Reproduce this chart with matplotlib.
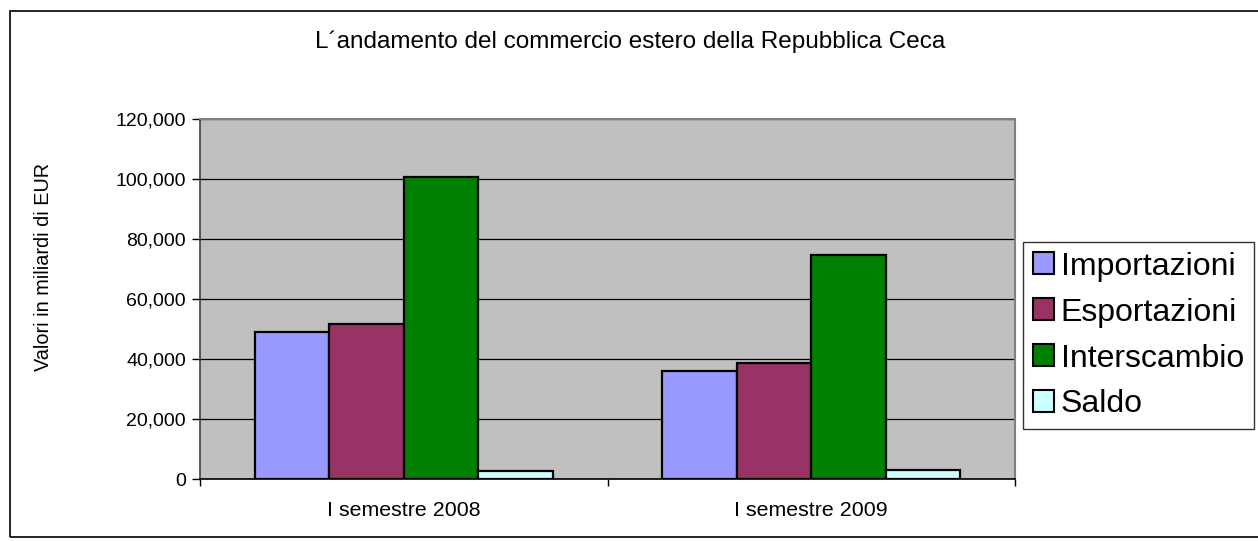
import matplotlib.pyplot as plt
from matplotlib.patches import Rectangle
from matplotlib.ticker import FuncFormatter
import numpy as np

plt.rcParams['font.family'] = ['Liberation Sans', 'DejaVu Sans']

categories = ["I semestre 2008", "I semestre 2009"]
series_names = ["Importazioni", "Esportazioni", "Interscambio", "Saldo"]
importazioni = [49100, 35900]
esportazioni = [51700, 38800]
interscambio = [100800, 74700]
saldo = [2600, 2900]
colors = ["#9999FF", "#993366", "#008000", "#CCFFFF"]

W, H = 1258, 541
fig = plt.figure(figsize=(W / 100, H / 100), dpi=100)

# plot area placed in pixel terms
left, right, top, bottom = 200, 1015, 119, 479
ax = fig.add_axes([left / W, 1 - bottom / H, (right - left) / W, (bottom - top) / H])
ax.set_facecolor("#C0C0C0")

x = np.arange(len(categories))
width = 0.183
values = [importazioni, esportazioni, interscambio, saldo]
bars = []
for i, vals in enumerate(values):
    b = ax.bar(x + (i - 1.5) * width, vals, width, color=colors[i],
               edgecolor="black", linewidth=1.6, zorder=3, label=series_names[i])
    bars.append(b)

ax.set_xlim(-0.5, 1.5)
ax.set_ylim(0, 120000)
ax.set_yticks(np.arange(0, 120001, 20000))
ax.yaxis.set_major_formatter(FuncFormatter(lambda v, p: "{:,.0f}".format(v)))
ax.yaxis.grid(True, color="black", linewidth=0.9, zorder=1)
ax.set_axisbelow(True)

ax.set_xticks(x)
ax.set_xticklabels(categories)
ax.set_xticks([-0.5, 0.5, 1.5], minor=True)
ax.tick_params(axis="x", which="major", length=0, pad=16, labelsize=15.4)
ax.tick_params(axis="x", which="minor", length=5, width=1, direction="out")
ax.tick_params(axis="y", length=6, width=1, direction="out", pad=4, labelsize=14)

for s in ["top", "right"]:
    ax.spines[s].set_color("#808080")
    ax.spines[s].set_linewidth(1.5)
ax.spines["left"].set_color("#404040")
ax.spines["left"].set_linewidth(1.2)
ax.spines["bottom"].set_color("black")
ax.spines["bottom"].set_linewidth(1.2)

ax.set_ylabel("Valori in miliardi di EUR", fontsize=14.3, labelpad=45, y=0.59)

fig.text(630 / W, 1 - 42 / H, "L\u00b4andamento del commercio estero della Repubblica Ceca",
         ha="center", va="center", fontsize=17.5)

leg = fig.legend(handles=bars, labels=series_names, loc="upper left",
                 bbox_to_anchor=(1023 / W, 1 - 242 / H), fontsize=23,
                 frameon=True, fancybox=False, borderaxespad=0,
                 handlelength=0.68, handleheight=0.68, handletextpad=0.2,
                 labelspacing=0.5, borderpad=0.3)
leg.get_frame().set_edgecolor("black")
leg.get_frame().set_linewidth(1)
for h in leg.legend_handles:
    h.set_linewidth(1.5)

# outer chart border
fig.patches.append(Rectangle((10 / W, 1 - 537 / H), 1.2, (537 - 11) / H,
                             transform=fig.transFigure, fill=False,
                             edgecolor="black", linewidth=1.2, clip_on=False))

fig.savefig("out.png", dpi=100)
